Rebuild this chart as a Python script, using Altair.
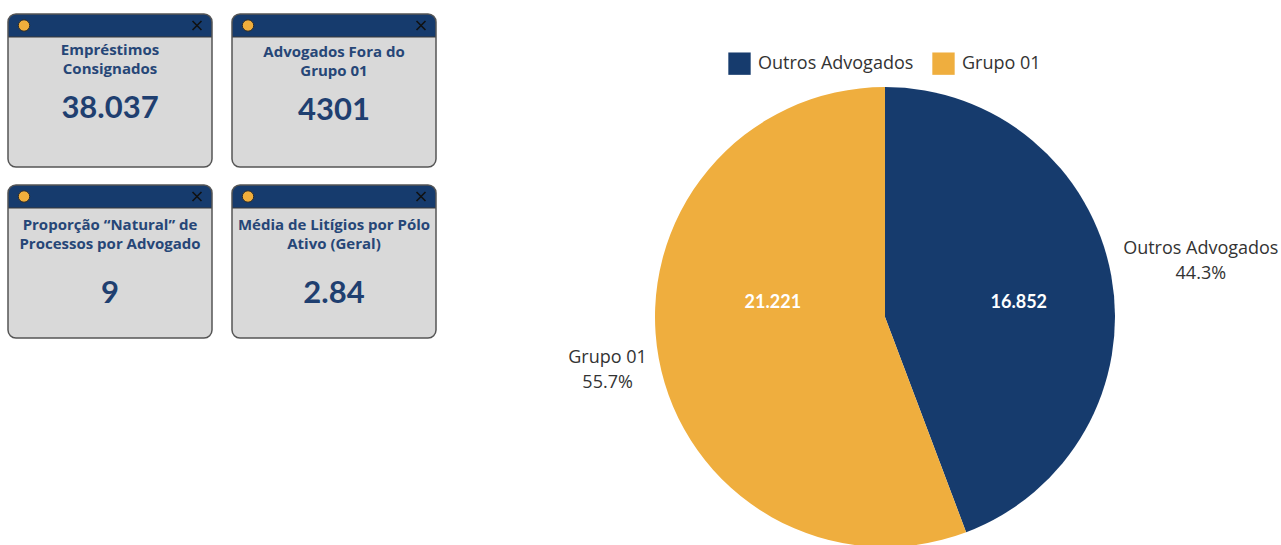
import altair as alt
import pandas as pd

W, H = 1281, 545
FONT = "Lato"
TFONT = "Open Sans"

# ---- data ----
categories = ["Outros Advogados", "Grupo 01"]
counts = [16852, 21221]
count_labels = ["16.852", "21.221"]
colors = ["#163b6d", "#efae3e"]

card_titles = [
    "Empréstimos\nConsignados",
    "Advogados Fora do\nGrupo 01",
    "Proporção “Natural” de\nProcessos por Advogado",
    "Média de Litígios por Pólo\nAtivo (Geral)",
]
card_values = ["38.037", "4301", "9", "2.84"]

# ---- layout (pixels) ----
CARD_X0, CARD_Y0, CARD_W, CARD_H = 8, 14, 204, 153
COL_GAP, ROW_GAP = 224, 171
HEADER_H = 23
title_offsets = [36, 38, 40, 40]
value_offsets = [95, 97, 109, 109]

cards = pd.DataFrame({"title": card_titles, "value": card_values})
cards["left"] = [CARD_X0 + (i % 2) * COL_GAP for i in range(len(cards))]
cards["top"] = [CARD_Y0 + (i // 2) * ROW_GAP for i in range(len(cards))]
cards["right"] = cards["left"] + CARD_W
cards["bottom"] = cards["top"] + CARD_H
cards["hbottom"] = cards["top"] + HEADER_H
cards["cx"] = cards["left"] + CARD_W / 2
cards["titley"] = cards["top"] + title_offsets
cards["valuey"] = cards["top"] + value_offsets
cards["dotx"] = cards["left"] + 16
cards["closex"] = cards["left"] + 189
cards["icony"] = cards["top"] + 11.5

xs = alt.Scale(domain=[0, W], range=[0, W], zero=False, nice=False)
ys = alt.Scale(domain=[0, H], range=[0, H], zero=False, nice=False)

base = alt.Chart(cards)

body = base.mark_rect(cornerRadius=8, fill="#d9d9d9").encode(
    x=alt.X("left:Q", scale=xs, axis=None), x2="right:Q",
    y=alt.Y("top:Q", scale=ys, axis=None), y2="bottom:Q")
header = base.mark_rect(cornerRadiusTopLeft=8, cornerRadiusTopRight=8, fill="#163b6d").encode(
    x=alt.X("left:Q", scale=xs, axis=None), x2="right:Q",
    y=alt.Y("top:Q", scale=ys, axis=None), y2="hbottom:Q")
hline = base.mark_rule(color="#3a3a3a", strokeWidth=1.2).encode(
    x=alt.X("left:Q", scale=xs, axis=None), x2="right:Q",
    y=alt.Y("hbottom:Q", scale=ys, axis=None))
border = base.mark_rect(cornerRadius=8, fillOpacity=0, fill="white", stroke="#555555", strokeWidth=1.5).encode(
    x=alt.X("left:Q", scale=xs, axis=None), x2="right:Q",
    y=alt.Y("top:Q", scale=ys, axis=None), y2="bottom:Q")
dot = base.mark_point(shape="circle", filled=True, size=130, fill="#f0ae3c",
                      stroke="#2a2a2a", strokeWidth=1, opacity=1).encode(
    x=alt.X("dotx:Q", scale=xs, axis=None), y=alt.Y("icony:Q", scale=ys, axis=None))
close = base.mark_point(shape="M-1,-1L1,1M1,-1L-1,1", size=80, stroke="#111111",
                        strokeWidth=1.6, opacity=1).encode(
    x=alt.X("closex:Q", scale=xs, axis=None), y=alt.Y("icony:Q", scale=ys, axis=None))
title_txt = base.mark_text(font=TFONT, fontSize=15, fontWeight="bold", color="#264677",
                           lineBreak="\n", lineHeight=19, align="center", baseline="middle").encode(
    x=alt.X("cx:Q", scale=xs, axis=None), y=alt.Y("titley:Q", scale=ys, axis=None), text="title:N")
value_txt = base.mark_text(font=FONT, fontSize=31, fontWeight="bold", color="#1f3f70",
                           align="center", baseline="middle").encode(
    x=alt.X("cx:Q", scale=xs, axis=None), y=alt.Y("valuey:Q", scale=ys, axis=None), text="value:N")

# ---- pie ----
pie_df = pd.DataFrame({"cat": categories, "n": counts, "lab": count_labels,
                       "idx": list(range(len(categories)))})
CX, CY, R = 885, 317, 230

pie_base = alt.Chart(pie_df).transform_joinaggregate(total="sum(n)").transform_window(
    cum="sum(n)", sort=[alt.SortField("idx")], frame=[None, 0]
).transform_calculate(
    mid="(datum.cum - datum.n/2) / datum.total * 2 * PI",
    pct="format(datum.n / datum.total * 100, '.1f') + '%'",
    outer="datum.cat + '\\n' + datum.pct",
)

arc = alt.Chart(pie_df).mark_arc(outerRadius=R, stroke=None).encode(
    theta=alt.Theta("n:Q", stack=True),
    order=alt.Order("idx:Q"),
    color=alt.Color("cat:N", scale=alt.Scale(domain=categories, range=colors),
                    sort=categories,
                    legend=alt.Legend(title=None, orient="none", legendX=728, legendY=52,
                                      direction="horizontal", symbolType="square",
                                      symbolSize=500, symbolStrokeWidth=0, symbolOpacity=1,
                                      labelFont=TFONT, labelFontSize=18, labelColor="#333333",
                                      labelOffset=7, columnPadding=18)),
    x=alt.value(CX), y=alt.value(CY),
)

def inner(cat, radius, dy):
    return pie_base.transform_filter(alt.datum.cat == cat).mark_text(
        radius=radius, dy=dy, font=FONT, fontSize=18, fontWeight="bold", color="white",
        align="center", baseline="middle").encode(
        theta=alt.Theta("mid:Q", scale=None), text="lab:N",
        x=alt.value(CX), y=alt.value(CY))

def outer(cat, radius):
    return pie_base.transform_filter(alt.datum.cat == cat).mark_text(
        radius=radius, dy=-10, font=TFONT, fontSize=18, color="#333333", lineBreak="\n",
        lineHeight=25, align="center", baseline="middle").encode(
        theta=alt.Theta("mid:Q", scale=None), text="outer:N",
        x=alt.value(CX), y=alt.value(CY))

chart = alt.layer(
    body, header, hline, border, dot, close, title_txt, value_txt,
    arc,
    inner("Outros Advogados", 136, 10), inner("Grupo 01", 114, -34),
    outer("Outros Advogados", 321), outer("Grupo 01", 282),
).resolve_scale(color="independent").properties(
    width=W, height=H, autosize=alt.AutoSizeParams(type="none"), padding=0,
    background="white",
).configure_view(stroke=None)

chart.save("out.html", embed_options={"renderer": "svg", "actions": False})
